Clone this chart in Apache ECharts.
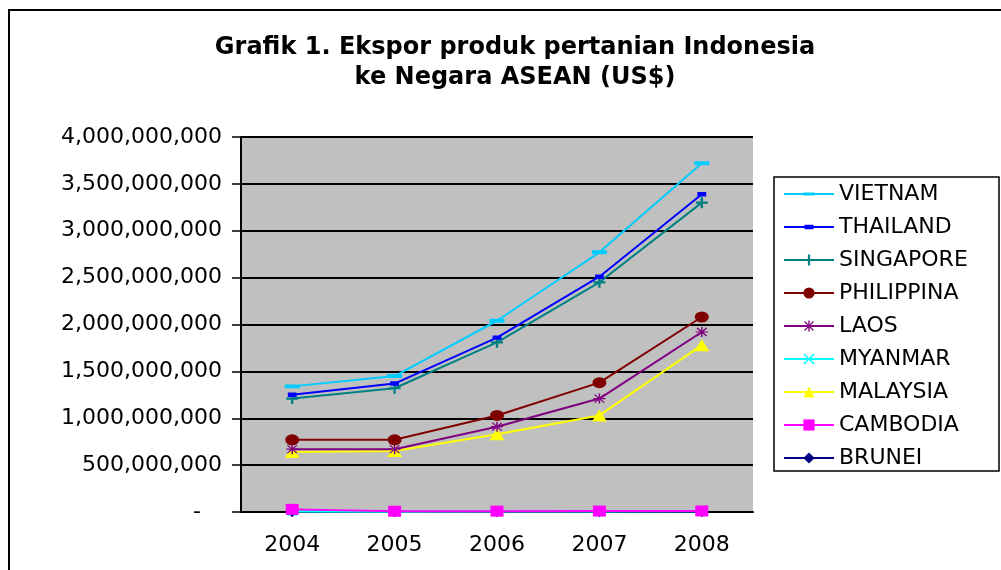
<!DOCTYPE html>
<html>

<head>
    <meta charset="utf-8">
    <title>Grafik 1</title>
    <script src="https://cdn.jsdelivr.net/npm/echarts@6/dist/echarts.min.js"></script>
    <style>
        body { margin: 0; background: #fff; }
    </style>
</head>

<body>
    <div id="main" style="width: 1001px;height:570px;"></div>
    <script type="text/javascript">
        // data (US$)
        var years = ['2004', '2005', '2006', '2007', '2008'];
        var vietnam = [1.34e9, 1.45e9, 2.04e9, 2.77e9, 3.72e9];
        var thailand = [1.25e9, 1.37e9, 1.86e9, 2.51e9, 3.39e9];
        var singapore = [1.21e9, 1.32e9, 1.81e9, 2.45e9, 3.30e9];
        var philippina = [0.77e9, 0.77e9, 1.03e9, 1.38e9, 2.08e9];
        var laos = [0.67e9, 0.67e9, 0.91e9, 1.21e9, 1.92e9];
        var myanmar = [6e6, 4e6, 5e6, 6e6, 7e6];
        var malaysia = [0.64e9, 0.65e9, 0.83e9, 1.03e9, 1.78e9];
        var cambodia = [2.8e7, 8e6, 9e6, 1.0e7, 1.1e7];
        var brunei = [2e6, 2e6, 2e6, 2e6, 2e6];
        var legendNames = ['VIETNAM', 'THAILAND', 'SINGAPORE', 'PHILIPPINA', 'LAOS', 'MYANMAR', 'MALAYSIA', 'CAMBODIA', 'BRUNEI'];

        var font = 'DejaVu Sans';

        // marker shapes (the zero-area strips keep the dash paths square so they stay thin)
        var dashPath = 'path://M0,0L10,0L10,0Z M0,10L10,10L10,10Z M0,3.6H10V6.4H0Z';
        var smallDashPath = 'path://M0,0L10,0L10,0Z M0,10L10,10L10,10Z M1,3H9V7H1Z';
        var plusPath = 'path://M4,0H6V4H10V6H6V10H4V6H0V4H4Z';
        var xPath = 'path://M0,1L1,0L5,4L9,0L10,1L6,5L10,9L9,10L5,6L1,10L0,9L4,5Z';
        var starPath = 'path://M4.4,0H5.6V3.6L8.6,0.6L9.4,1.4L6.4,4.4H10V5.6H6.4L9.4,8.6L8.6,9.4L5.6,6.4V10H4.4V6.4L1.4,9.4L0.6,8.6L3.6,5.6H0V4.4H3.6L0.6,1.4L1.4,0.6L4.4,3.6Z';

        function line(name, data, color, symbol, size) {
            return {
                name: name,
                type: 'line',
                data: data,
                symbol: symbol,
                symbolSize: size,
                showAllSymbol: true,
                lineStyle: { color: color, width: 2 },
                itemStyle: { color: color },
                emphasis: { disabled: true }
            };
        }

        var myChart = echarts.init(document.getElementById('main'));

        myChart.setOption({
            animation: false,
            title: {
                text: 'Grafik 1. Ekspor produk pertanian Indonesia\nke Negara ASEAN (US$)',
                left: 510,
                textAlign: 'center',
                top: 28,
                textStyle: {
                    fontFamily: font,
                    fontSize: 24,
                    fontWeight: 'bold',
                    lineHeight: 30,
                    color: '#000'
                }
            },
            legend: {
                data: legendNames,
                orient: 'vertical',
                left: 774,
                top: 177,
                padding: [6, 6, 2, 9],
                itemWidth: 50,
                itemHeight: 14,
                itemGap: 11,
                borderColor: '#000',
                borderWidth: 1.5,
                backgroundColor: '#fff',
                textStyle: {
                    fontFamily: font,
                    fontSize: 22,
                    lineHeight: 21,
                    width: 154,
                    color: '#000'
                }
            },
            grid: {
                left: 241,
                right: 248,
                top: 137,
                bottom: 58,
                show: true,
                backgroundColor: '#C0C0C0',
                borderWidth: 0
            },
            xAxis: {
                type: 'category',
                data: years,
                axisLine: { lineStyle: { color: '#000', width: 2 } },
                axisTick: { length: 8, lineStyle: { color: '#000', width: 2 } },
                axisLabel: {
                    margin: 22,
                    fontFamily: font,
                    fontSize: 22,
                    color: '#000'
                }
            },
            yAxis: {
                type: 'value',
                min: 0,
                max: 4000000000,
                interval: 500000000,
                axisLine: { show: true, lineStyle: { color: '#000', width: 2 } },
                axisTick: { show: true, length: 9, lineStyle: { color: '#000', width: 1.5 } },
                splitLine: { lineStyle: { color: '#000', width: 2 } },
                axisLabel: {
                    margin: 19,
                    fontFamily: font,
                    fontSize: 22,
                    color: '#000',
                    formatter: function (v) {
                        return v === 0 ? '-   ' : v.toLocaleString('en-US');
                    }
                }
            },
            series: [
                line('BRUNEI', brunei, '#000080', 'diamond', 11),
                line('MYANMAR', myanmar, '#00FFFF', xPath, 10),
                line('CAMBODIA', cambodia, '#FF00FF', 'rect', [13, 11]),
                line('MALAYSIA', malaysia, '#FFFF00', 'triangle', [15, 12]),
                line('LAOS', laos, '#800080', starPath, [12, 10]),
                line('PHILIPPINA', philippina, '#800000', 'circle', [14, 11]),
                line('SINGAPORE', singapore, '#008080', plusPath, [12, 11]),
                line('THAILAND', thailand, '#0000FF', smallDashPath, [11, 11]),
                line('VIETNAM', vietnam, '#00CCFF', dashPath, [15, 14])
            ],
            graphic: [{
                type: 'rect',
                shape: { x: 9, y: 10, width: 1100, height: 700 },
                style: { fill: 'none', stroke: '#000', lineWidth: 2 },
                silent: true
            }]
        });
    </script>
</body>

</html>
